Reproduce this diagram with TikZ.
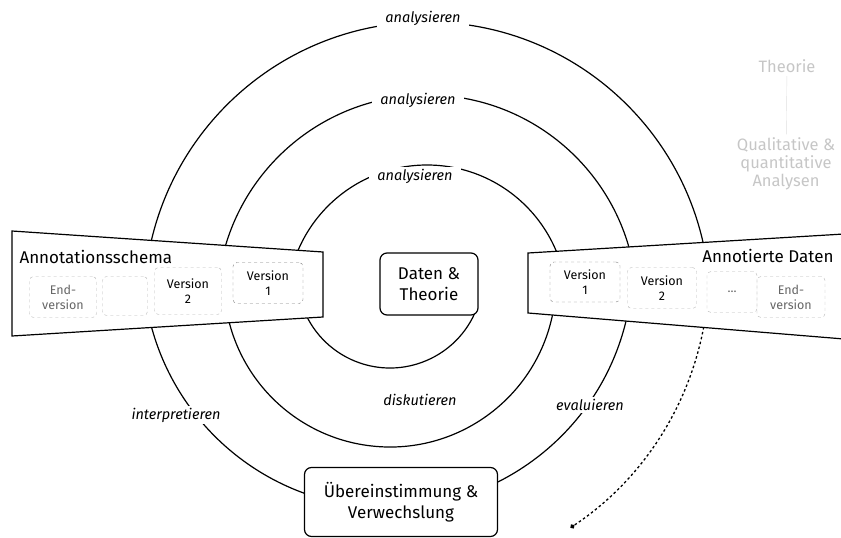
\documentclass[tikz,border=0pt]{standalone}
\usepackage{fontspec}
\setmainfont{Fira Sans}
\usetikzlibrary{arrows.meta}
\tikzset{loop/.style={line width=1.2pt}}
\tikzset{flap/.style={draw=black,fill=white,line width=1.2pt}}
\tikzset{lab/.style={fill=white,inner xsep=8pt,inner ysep=2pt,font=\fontsize{14.5}{14.5}\selectfont\itshape}}
\tikzset{vbox/.style={draw=gray!55,dashed,rounded corners=4pt,align=center,inner sep=0pt,font=\fontsize{12.5}{15}\selectfont}}
\tikzset{main/.style={draw,fill=white,line width=1.2pt,rounded corners=7pt,align=center,font=\fontsize{17}{21}\selectfont}}
\tikzset{title/.style={font=\fontsize{17}{17}\selectfont}}
\tikzset{fade/.style={text=gray!45,align=center,font=\fontsize{16.5}{18}\selectfont}}

\begin{document}
\begin{tikzpicture}[x=1pt,y=-1pt]
\useasboundingbox (0,0) rectangle (841,538);
% centres of the half loops
\coordinate (ctop) at (427,305);
\coordinate (cin) at (390,275);
\coordinate (cmid) at (390,281);
\coordinate (cout) at (388,263);
\coordinate (cdot) at (400,270);

% the spiral
\draw[loop] ([shift={(22:93)}]cin) arc[start angle=22,end angle=161,radius=93];
\draw[loop] ([shift={(180:140)}]ctop) arc[start angle=180,end angle=360,radius=140];
\draw[loop] ([shift={(8:166)}]cmid) arc[start angle=8,end angle=172,radius=166];
\draw[loop] ([shift={(180:210)}]ctop) arc[start angle=180,end angle=360,radius=210];
\draw[loop] ([shift={(10:245)}]cout) arc[start angle=10,end angle=170,radius=245];
\draw[loop] ([shift={(180:283)}]ctop) arc[start angle=180,end angle=360,radius=283];
\draw[line width=1.3pt,dash pattern=on 2.5pt off 2.5pt,-{Circle[length=4.5pt]}]
  ([shift={(6:309)}]cdot) arc[start angle=6,end angle=56.5,radius=309];

% labels on the loops
\node[lab] (an3) at (423,18) {analysieren};
\node[lab] (an2) at (418,100) {analysieren};
\node[lab] (an1) at (415,176) {analysieren};
\node[lab] (disk) at (420,400) {diskutieren};
\node[lab] (eval) at (590,405) {evaluieren};
\node[lab] (interp) at (176,415) {interpretieren};

% the two flaps
\filldraw[flap] (12,231) -- (323,252) -- (323,317) -- (12,336) -- cycle;
\filldraw[flap] (528,253) -- (844,234) -- (844,339) -- (528,313) -- cycle;

\node[title,anchor=west] (lschema) at (16,257) {Annotationsschema};
\node[title,anchor=east] (rdaten) at (837,256) {Annotierte Daten};

\node[vbox,text=gray!80!black,minimum width=67,minimum height=41] (lend) at (63,297) {End-\\version};
\node[vbox,minimum width=45,minimum height=39] (ldots) at (125,296) {};
\node[vbox,minimum width=67,minimum height=47] (lv2) at (188,291) {Version\\2};
\node[vbox,draw=gray,minimum width=70,minimum height=41] (lv1) at (268,283) {Version\\1};

\node[vbox,draw=gray,minimum width=70,minimum height=40] (rv1) at (585,282) {Version\\1};
\node[vbox,minimum width=69,minimum height=41] (rv2) at (662,288) {Version\\2};
\node[vbox,text=gray!80!black,minimum width=50,minimum height=41] (rdots) at (732,292) {...};
\node[vbox,text=gray!80!black,minimum width=68,minimum height=41] (rend) at (791,297) {End-\\version};

% centre and bottom
\node[main,minimum width=98,minimum height=62] (daten) at (429,284) {Daten \&\\Theorie};
\node[main,minimum width=193,minimum height=69] (ueber) at (401,502) {Übereinstimmung \&\\Verwechslung};

% faded notes on the right
\node[fade] (theorie) at (787,66) {Theorie};
\node[fade] (quali) at (786,164) {Qualitative \&\\quantitative\\Analysen};
\draw[gray!25] (theorie) -- (quali);
\end{tikzpicture}
\end{document}
